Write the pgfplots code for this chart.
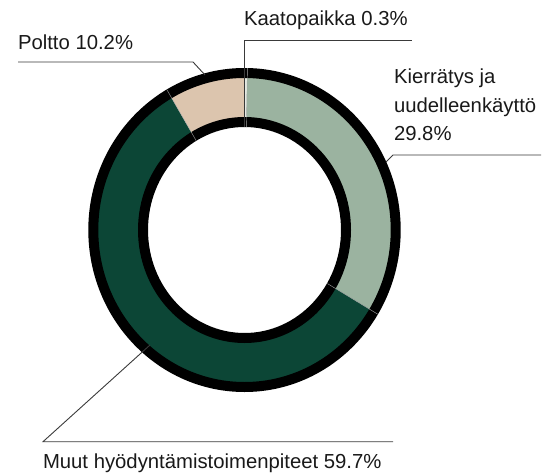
\documentclass[border=0pt]{standalone}
\usepackage{fontspec}
\setmainfont{Liberation Sans}
\usepackage{pgfplots}
\usepackage{pgfplotstable}
\pgfplotsset{compat=1.18}

\definecolor{cKaa}{HTML}{E4EAE2}
\definecolor{cKie}{HTML}{9BB3A0}
\definecolor{cMuu}{HTML}{0C4636}
\definecolor{cPol}{HTML}{DCC5AE}
\definecolor{leader}{HTML}{3A3A3A}

% share = size of the slice as drawn (deg/3.6), pct = printed value
\pgfplotstableread{
name share pct col
Kaatopaikka 0.3 0.3 cKaa
Kierratys 33.4 29.8 cKie
Muut 58.0 59.7 cMuu
Poltto 8.3 10.2 cPol
}\slices

% ring centre (px)
\def\cx{244.5}
\def\cy{230}

\tikzset{lbl/.style={font=\fontsize{20.3bp}{29bp}\selectfont, inner sep=0pt, outer sep=0pt, text=black!90, anchor=base west}}

\begin{document}
\begin{tikzpicture}
\gdef\cum{90}
\foreach \i in {0,...,3}{
  \pgfplotstablegetelem{\i}{share}\of\slices \let\sh\pgfplotsretval
  \pgfplotstablegetelem{\i}{col}\of\slices \let\col\pgfplotsretval
  \pgfplotstablegetelem{\i}{pct}\of\slices \let\pc\pgfplotsretval
  \pgfmathsetmacro\e{\cum-3.6*\sh}
  \expandafter\xdef\csname sa\i\endcsname{\cum}
  \expandafter\xdef\csname se\i\endcsname{\e}
  \expandafter\xdef\csname sc\i\endcsname{\col}
  \expandafter\xdef\csname sp\i\endcsname{\pc}
  \xdef\cum{\e}
}
\begin{axis}[
    width=545bp, height=473bp,
    scale only axis,
    xmin=0, xmax=545,
    ymin=0, ymax=473,
    y dir=reverse,
    hide axis,
    clip=false,
]
% slices
\pgfplotsinvokeforeach{0,...,3}{
  \fill[\csname sc#1\endcsname]
    ([shift={(\csname sa#1\endcsname:148bp and 154bp)}]axis cs:\cx,\cy)
    arc[start angle=\csname sa#1\endcsname, end angle=\csname se#1\endcsname, x radius=148bp, y radius=154bp]
    -- ([shift={(\csname se#1\endcsname:104bp and 110bp)}]axis cs:\cx,\cy)
    arc[start angle=\csname se#1\endcsname, end angle=\csname sa#1\endcsname, x radius=104bp, y radius=110bp]
    -- cycle;
}
% black rings
\draw[line width=10bp, black] (axis cs:\cx,\cy) ellipse [x radius=151.2bp, y radius=157bp];
\draw[line width=10bp, black] (axis cs:\cx,\cy) ellipse [x radius=101.5bp, y radius=108bp];
% faint slice separators
\pgfplotsinvokeforeach{1,2,3}{
  \draw[line width=0.4bp, gray!70]
    ([shift={(\csname sa#1\endcsname:97bp and 103bp)}]axis cs:\cx,\cy)
    -- ([shift={(\csname sa#1\endcsname:156bp and 162bp)}]axis cs:\cx,\cy);
}
% leader lines
\draw[leader, line width=0.9bp] (axis cs:244.5,127) -- (axis cs:244.5,40) -- (axis cs:412,40);
\draw[leader, line width=0.9bp] (axis cs:18,62) -- (axis cs:193,62) -- (axis cs:205,75);
\draw[leader, line width=0.9bp] (axis cs:541,155) -- (axis cs:393,155) -- (axis cs:386,162);
\draw[leader, line width=0.9bp] (axis cs:393,441.7) -- (axis cs:43,441.7) -- (axis cs:150,345);
% labels
\node[lbl] at (axis cs:244,26) {Kaatopaikka \csname sp0\endcsname\%};
\node[lbl] at (axis cs:18,50) {Poltto \csname sp3\endcsname\%};
\node[lbl] at (axis cs:394,83.3) {Kierrätys ja};
\node[lbl] at (axis cs:394,112.7) {uudelleenkäyttö};
\node[lbl] at (axis cs:394,140.7) {\csname sp1\endcsname\%};
\node[lbl] at (axis cs:43,468.3) {Muut hyödyntämistoimenpiteet \csname sp2\endcsname\%};
\end{axis}
\pgfresetboundingbox
\useasboundingbox (current axis.south west) rectangle (current axis.north east);
\end{tikzpicture}
\end{document}
